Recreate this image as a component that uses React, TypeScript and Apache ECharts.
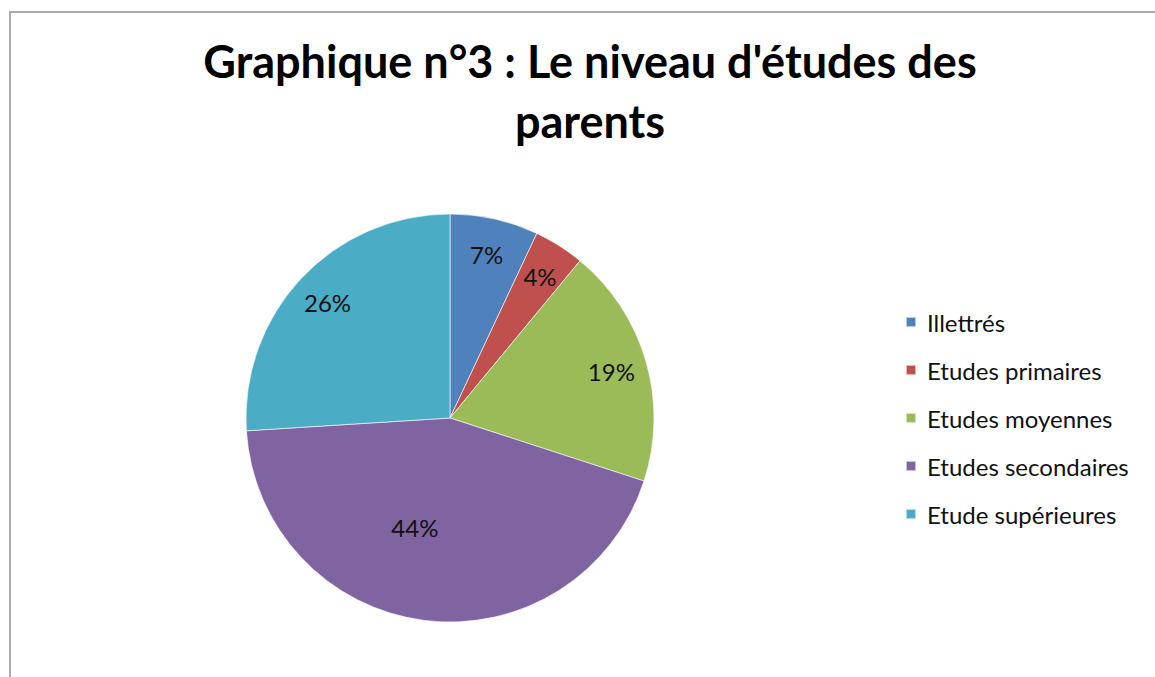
import React, { useEffect, useRef } from "react";
import * as echarts from "echarts";

const categories = ["Illettrés", "Etudes primaires", "Etudes moyennes", "Etudes secondaires", "Etude supérieures"];
const values = [7, 4, 19, 44, 26];
const colors = ["#4F81BD", "#C0504D", "#9BBB59", "#8064A2", "#4BACC6"];
const innerLabelIdx = [3];

export default function App() {
  const ref = useRef<HTMLDivElement>(null);
  useEffect(() => {
    const chart = echarts.init(ref.current!, null, { renderer: "svg" });
    const font = "Lato, 'Open Sans', sans-serif";
    const mainData = categories.map((n, i) => ({
      name: n,
      value: values[i],
      itemStyle: { color: colors[i] },
      label: innerLabelIdx.includes(i) ? { show: true, offset: [-22, 5] } : { show: false },
    }));
    const overlayData = categories.map((n, i) => ({
      name: n,
      value: values[i],
      label: { show: !innerLabelIdx.includes(i) },
    }));
    chart.setOption({
      animation: false,
      backgroundColor: "#fff",
      title: {
        text: "Graphique n°3 : Le niveau d'études des\nparents",
        left: 585,
        textAlign: "center",
        top: 26,
        textStyle: { fontFamily: font, fontWeight: "bold", fontSize: 45, lineHeight: 60, color: "#000" },
      },
      legend: {
        orient: "vertical",
        left: 900,
        top: 305,
        itemWidth: 10,
        itemHeight: 10,
        itemGap: 24,
        icon: "rect",
        data: categories,
        textStyle: { fontFamily: font, fontSize: 24, lineHeight: 24, color: "#111", padding: [0, 0, 0, 6] },
      },
      graphic: [
        { type: "rect", shape: { x: 10, y: 12, width: 3000, height: 3000 }, style: { fill: "none", stroke: "#aaaaaa", lineWidth: 2 } },
      ],
      series: [
        {
          type: "pie",
          center: [450, 418],
          radius: [0, 204],
          startAngle: 90,
          clockwise: true,
          data: mainData,
          itemStyle: { borderColor: "rgba(255,255,255,0.6)", borderWidth: 1 },
          label: { position: "inside", formatter: "{c}%", fontFamily: font, fontSize: 24, color: "#111" },
          labelLine: { show: false },
          emphasis: { disabled: true },
        },
        {
          type: "pie",
          center: [450, 418],
          radius: [126, 204],
          startAngle: 90,
          clockwise: true,
          silent: true,
          data: overlayData,
          itemStyle: { color: "rgba(0,0,0,0)" },
          label: { position: "inside", formatter: "{c}%", fontFamily: font, fontSize: 24, color: "#111" },
          labelLine: { show: false },
          emphasis: { disabled: true },
        },
      ],
    });
    return () => chart.dispose();
  }, []);
  return <div ref={ref} style={{ position: "absolute", left: 0, top: 0, width: 1155, height: 677 }} />;
}
